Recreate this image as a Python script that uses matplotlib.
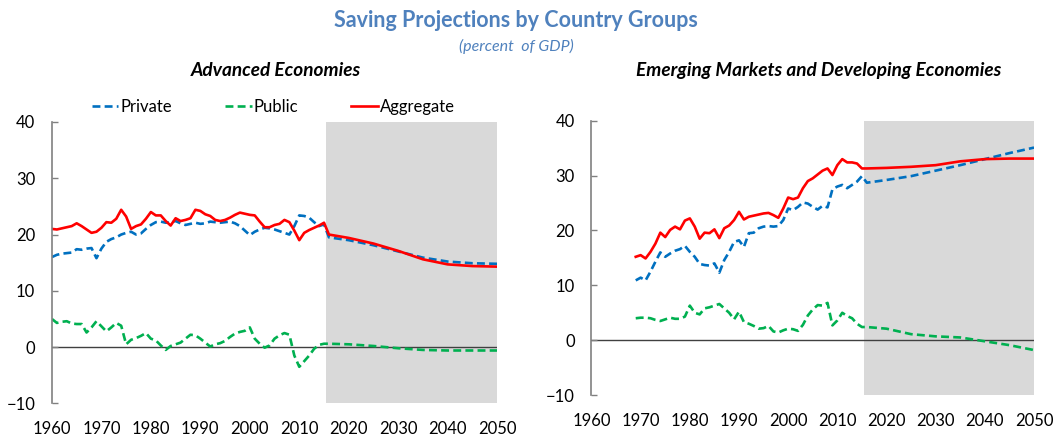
import matplotlib
matplotlib.use("Agg")
import matplotlib.pyplot as plt

plt.rcParams["font.family"] = ["Lato", "DejaVu Sans"]

# ---- Advanced economies: history 1960-2015, projections 2016-2050 ----
adv_hist_years = list(range(1960, 2016))
adv_private = [16.0, 16.4, 16.6, 16.7, 16.8, 17.4, 17.3, 17.5, 17.6, 15.8,
               17.5, 18.7, 19.2, 19.5, 20.0, 20.3, 20.5, 20.0, 20.2, 21.0,
               21.7, 22.2, 22.3, 22.1, 22.2, 22.4, 22.0, 21.7, 21.9, 22.1,
               21.9, 22.0, 22.3, 22.2, 22.1, 22.2, 22.3, 22.0, 21.5, 20.7,
               19.9, 20.5, 20.9, 21.2, 21.1, 20.9, 20.6, 20.3, 20.0, 21.5,
               23.4, 23.3, 23.0, 22.2, 21.5, 21.8]
adv_public = [5.0, 4.3, 4.5, 4.6, 4.2, 4.1, 4.1, 2.6, 3.5, 4.6,
              3.7, 2.8, 3.5, 4.3, 3.8, 0.5, 1.3, 1.6, 2.0, 2.5,
              1.5, 1.2, 0.3, -0.5, 0.2, 0.5, 0.8, 1.5, 2.2, 2.1,
              1.5, 0.8, 0.1, 0.5, 0.7, 1.1, 1.8, 2.4, 2.7, 2.9,
              3.5, 1.5, 0.6, -0.1, 0.3, 1.5, 2.1, 2.5, 2.2, -1.5,
              -3.5, -2.5, -1.5, -0.3, 0.4, 0.6]
adv_aggregate = [21.0, 20.9, 21.1, 21.3, 21.5, 22.0, 21.5, 20.9, 20.3, 20.5,
                 21.2, 22.2, 22.1, 22.8, 24.4, 23.2, 21.0, 21.5, 21.8, 22.8,
                 24.0, 23.4, 23.4, 22.4, 21.6, 22.9, 22.4, 22.6, 22.9, 24.4,
                 24.2, 23.6, 23.3, 22.6, 22.4, 22.6, 23.0, 23.5, 23.9, 23.7,
                 23.5, 23.4, 22.3, 21.3, 21.3, 21.7, 21.9, 22.6, 22.2, 20.7,
                 19.0, 20.3, 20.8, 21.2, 21.6, 22.1]

proj_years = [2016, 2020, 2025, 2030, 2035, 2040, 2045, 2050]
adv_private_proj = [19.5, 19.0, 18.1, 17.0, 15.9, 15.2, 14.9, 14.8]
adv_public_proj = [0.6, 0.5, 0.2, -0.2, -0.5, -0.6, -0.6, -0.6]
adv_aggregate_proj = [20.0, 19.4, 18.4, 17.1, 15.6, 14.7, 14.4, 14.3]

# ---- Emerging markets and developing economies: history 1969-2015 ----
em_hist_years = list(range(1969, 2016))
em_private = [10.9, 11.4, 10.9, 12.5, 14.3, 16.0, 15.2, 15.8, 16.3, 16.6,
              17.2, 16.1, 15.2, 13.9, 13.7, 13.6, 14.0, 12.3, 14.6, 16.1,
              17.9, 18.2, 17.0, 19.5, 19.6, 20.4, 20.7, 20.8, 20.7, 20.8,
              21.9, 24.0, 23.7, 24.3, 25.1, 24.9, 24.3, 23.8, 24.5, 24.2,
              27.5, 28.0, 28.3, 27.7, 28.3, 28.9, 29.9]
em_public = [4.0, 4.1, 4.1, 4.0, 3.7, 3.5, 3.8, 4.1, 3.9, 3.9,
             4.3, 6.3, 5.0, 4.7, 5.8, 6.0, 6.3, 6.6, 5.8, 5.0,
             3.8, 5.2, 3.3, 3.0, 2.6, 2.1, 2.2, 2.6, 1.6, 1.4,
             1.8, 2.1, 2.0, 1.7, 2.8, 4.5, 5.6, 6.4, 6.3, 6.8,
             2.7, 3.6, 5.0, 4.4, 4.0, 3.0, 2.4]
em_aggregate = [15.2, 15.5, 14.9, 16.1, 17.6, 19.6, 18.8, 20.1, 20.7, 20.2,
                21.8, 22.2, 20.7, 18.5, 19.6, 19.5, 20.2, 18.6, 20.4, 20.9,
                21.9, 23.4, 22.0, 22.5, 22.7, 22.9, 23.1, 23.2, 22.8, 22.3,
                24.0, 26.0, 25.7, 26.0, 27.7, 29.0, 29.5, 30.2, 30.9, 31.3,
                30.1, 31.9, 33.0, 32.4, 32.4, 32.2, 31.3]

em_private_proj = [28.7, 29.2, 29.9, 30.9, 31.9, 33.0, 34.1, 35.1]
em_public_proj = [2.4, 2.1, 1.1, 0.7, 0.5, -0.2, -0.9, -1.8]
em_aggregate_proj = [31.3, 31.4, 31.6, 31.9, 32.6, 33.0, 33.1, 33.1]

x_ticks = list(range(1960, 2051, 10))
y_ticks = [-10, 0, 10, 20, 30, 40]

BLUE = "#0070C0"
GREEN = "#00B050"
RED = "#FF0000"
TITLE_BLUE = "#4F81BD"


def draw_panel(ax, hist_years, priv, pub, agg, priv_p, pub_p, agg_p):
    ax.axvspan(2015.5, 2050, color="#D9D9D9", lw=0, zorder=0)
    ax.axhline(0, color="#404040", lw=1.0, zorder=1)

    years = hist_years + proj_years
    ax.plot(years, priv + priv_p, color=BLUE, lw=1.9, ls=(0, (3, 1.6)),
            label="Private", zorder=3)
    ax.plot(years, pub + pub_p, color=GREEN, lw=1.9, ls=(0, (3, 1.6)),
            label="Public", zorder=3)
    ax.plot(years, agg + agg_p, color=RED, lw=1.9, label="Aggregate", zorder=4)

    ax.set_xlim(1960, 2050)
    ax.set_ylim(-10, 40)
    ax.set_xticks(x_ticks)
    ax.set_yticks(y_ticks)
    ax.tick_params(axis="x", length=0, pad=13, labelsize=12)
    ax.tick_params(axis="y", direction="in", length=4.5, width=1,
                   color="#808080", labelsize=12, pad=12)
    for side in ["top", "right", "bottom"]:
        ax.spines[side].set_visible(False)
    ax.spines["left"].set_color("#808080")
    ax.spines["left"].set_linewidth(1.2)
    ax.spines["left"].set_zorder(5)


def main():
    fig = plt.figure(figsize=(10.6, 4.38), dpi=100)

    ax1 = fig.add_axes([0.049, 0.079, 0.420, 0.6425])
    ax2 = fig.add_axes([0.558, 0.098, 0.4175, 0.6264])

    draw_panel(ax1, adv_hist_years, adv_private, adv_public, adv_aggregate,
               adv_private_proj, adv_public_proj, adv_aggregate_proj)
    draw_panel(ax2, em_hist_years, em_private, em_public, em_aggregate,
               em_private_proj, em_public_proj, em_aggregate_proj)

    ax1.legend(loc="center", bbox_to_anchor=(0.497, 1.053), ncol=3,
               frameon=False, fontsize=12, handlelength=1.6,
               handletextpad=0.1, columnspacing=3.2, borderaxespad=0)

    fig.text(0.487, 0.954, "Saving Projections by Country Groups",
             ha="center", va="center", fontsize=15.5, fontweight="bold",
             color=TITLE_BLUE)
    fig.text(0.487, 0.893, "(percent  of GDP)", ha="center", va="center",
             fontsize=11.5, style="italic", color=TITLE_BLUE)
    fig.text(0.260, 0.840, "Advanced Economies", ha="center", va="center",
             fontsize=13.7, fontweight="bold", style="italic")
    fig.text(0.772, 0.840, "Emerging Markets and Developing Economies",
             ha="center", va="center", fontsize=13.7, fontweight="bold",
             style="italic")

    fig.savefig("out.png", dpi=100)


if __name__ == "__main__":
    main()
